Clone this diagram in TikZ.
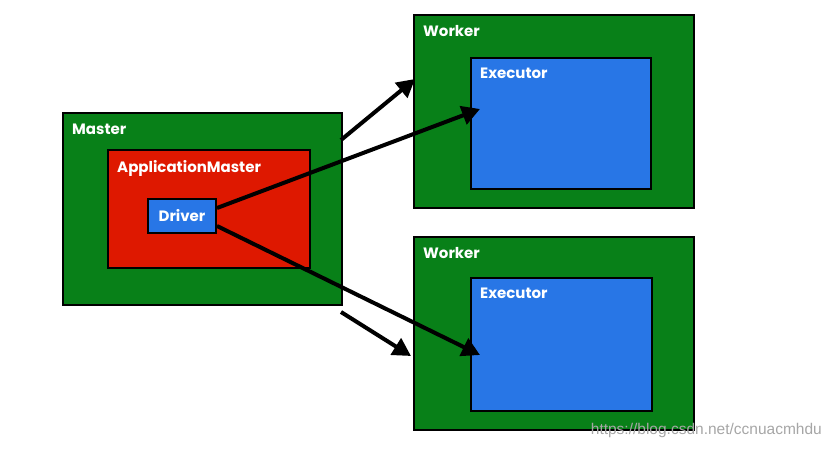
\documentclass[tikz,border=0pt]{standalone}
\usepackage{fontspec}
\setmainfont{Poppins}
\setsansfont{Liberation Sans}
\usetikzlibrary{arrows.meta}

\definecolor{boxgreen}{RGB}{8,128,24}
\definecolor{boxred}{RGB}{222,24,0}
\definecolor{boxblue}{RGB}{40,118,230}

\begin{document}
\begin{tikzpicture}[x=1pt,y=-1pt,
    box/.style={draw=black, line width=2pt, anchor=north west, inner sep=0pt},
    lbl/.style={text=white, anchor=north west, inner sep=0pt, font=\bfseries\fontsize{15}{17}\selectfont},
    arrow/.style={line width=4pt, -{Triangle[length=18pt,width=19pt]}}]
        \useasboundingbox (0,0) rectangle (831,449);

        % master side
        \node[box, fill=boxgreen, minimum width=279, minimum height=192] (master) at (62,112) {};
        \node[lbl] at ([shift={(10,12)}]master.north west) {Master};
        \node[box, fill=boxred, minimum width=202, minimum height=118] (appmaster) at (107,149) {};
        \node[lbl] at ([shift={(10,11)}]appmaster.north west) {ApplicationMaster};
        \node[box, fill=boxblue, minimum width=68, minimum height=34, anchor=center, text=white,
              font=\bfseries\fontsize{15}{17}\selectfont] (driver) at (182,216) {Driver};

        % workers
        \node[box, fill=boxgreen, minimum width=280, minimum height=193] (worker1) at (413,14) {};
        \node[lbl] at ([shift={(10,11)}]worker1.north west) {Worker};
        \node[box, fill=boxblue, minimum width=180, minimum height=131] (executor1) at (470,57) {};
        \node[lbl] at ([shift={(10,11)}]executor1.north west) {Executor};

        \node[box, fill=boxgreen, minimum width=280, minimum height=193] (worker2) at (413,236) {};
        \node[lbl] at ([shift={(10,11)}]worker2.north west) {Worker};
        \node[box, fill=boxblue, minimum width=181, minimum height=133] (executor2) at (470,277) {};
        \node[lbl] at ([shift={(10,11)}]executor2.north west) {Executor};

        % free ends of the short arrows
        \coordinate (m1) at (341,140);
        \coordinate (m2) at (341,312);
        \coordinate (w1) at (415,79);
        \coordinate (w2) at (411,356);
        \coordinate (e1) at (480,109);
        \coordinate (e2) at (480,355);

        \draw[arrow] (m1) -- (w1);
        \draw[arrow] (driver.east) ++(0,-8) -- (e1);
        \draw[arrow] (driver.east) ++(0,10) -- (e2);
        \draw[arrow] (m2) -- (w2);

        % watermark
        \node[anchor=south east, inner sep=0pt, text=black!35, font=\sffamily\fontsize{15.5}{17}\selectfont]
            (mark) at (822,438) {https://blog.csdn.net/ccnuacmhdu};
    \end{tikzpicture}
\end{document}
